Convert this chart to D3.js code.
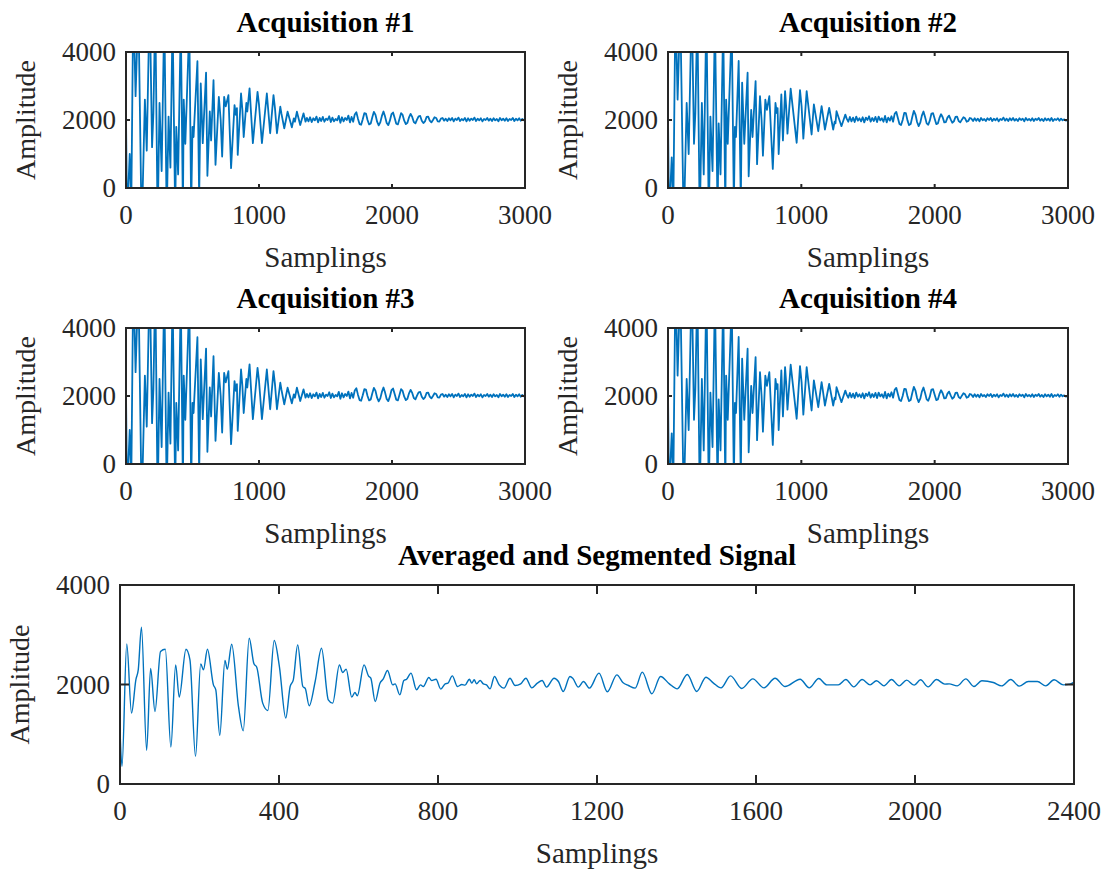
<!DOCTYPE html>
<html>
<head>
<meta charset="utf-8">
<script src="https://cdn.jsdelivr.net/npm/d3@7"></script>
<style>
  body { margin: 0; background: #fff; }
  svg { display: block; }
</style>
</head>
<body>
<div id="chart"></div>
<script>
// ---- data ----
const acqTitles = ["Acquisition #1", "Acquisition #2", "Acquisition #3", "Acquisition #4"];
const avgTitle = "Averaged and Segmented Signal";
const xLabel = "Samplings";
const yLabel = "Amplitude";

const acqXTicks = [0, 1000, 2000, 3000];
const avgXTicks = [0, 400, 800, 1200, 1600, 2000, 2400];
const yTicks = [0, 2000, 4000];

// raw acquisitions: [sample, amplitude] turning points (start of record, goes off scale)
const acqAHead = [[0,2100],[8,-900],[28,1000],[40,-400],[55,5600],[72,2700],[93,5400],[118,-1300],[142,2600],[156,1100],
  [178,5600],[196,1200],[206,2200],[220,5300],[238,-1100],[252,2500],[268,500],[288,5200],[306,-900],[320,2100],
  [334,600],[350,5000],[370,-800],[378,1800],[392,400],[412,4900],[428,-700],[434,2600],[446,1300],[476,4800],
  [490,-600],[500,1800],[508,1500],[537,3730],[550,-300],[562,3073],[577,1317],[602,3395],[612,361],[630,2250],
  [640,1400],[658,3170],[673,683],[698,2683],[712,2000],[723,927],[738,2683],[750,2400],[770,2732],[790,585],
  [816,2440],[826,2150],[834,2350],[840,975],[865,2780],[875,2300],[885,1500],[905,2500],[912,2250],[929,2930],
  [954,1317],[989,2830],[1000,2450],[1022,1317],[1059,2780],[1084,1610],[1109,2732],[1120,2350],[1135,1610],[1160,2390],
  [1168,2200],[1190,1756],[1215,2244],[1247,1785],[1262,2050],[1270,1950],[1285,2244],[1310,1854],[1335,2195],[1350,1950]];
// settled part, one value every 12 samples from sample 1360
const acqATailStart = 1360;
const acqATail = [2060,1960,2080,1940,2050,1990,2100,1930,2060,1970,2090,1950,2040,2000,2110,1940,2070,1960,2030,1990,
  2120,1920,2080,1960,2060,2000,2130,1930,2090,1950,
  2160,2230,2040,1880,1860,2020,2200,2190,2000,1870,1900,2080,2240,2150,1950,1840,1930,2120,2250,2100,
  1910,1850,1980,2170,2220,2060,1890,1870,2030,2200,2150,1980,1880,1920,2080,2180,2090,1940,1900,2010,
  2110,2120,1980,1910,1960,2090,2100,1980,1930,2000,2080,2060,1960,1950,2040,
  2060,1980,2040,1970,2050,1990,2060,1960,2040,2000,2070,1970,2030,1990,2060,1960,2050,1980,2040,2000,
  2070,1970,2040,1990,2050,1960,2030,2000,2060,1980,2040,1970,2050,1990,2030,1960,2060,1990,2040,1980,
  2050,1970,2030,2000,2060,1970,2040,1990,2050,1980,2030,1990,2010];

const acqBHead = [[0,2100],[8,-900],[28,900],[40,-500],[56,5500],[72,2600],[92,5300],[118,-1200],[140,2500],[155,1000],
  [178,5500],[195,1300],[205,2200],[220,5200],[238,-1000],[254,2500],[268,400],[288,5200],[306,-900],[318,2100],
  [334,500],[352,5000],[372,-800],[380,1900],[394,400],[414,4900],[430,-700],[436,2600],[448,1300],[478,4800],
  [494,-500],[502,1800],[510,1500],[530,3735],[546,-400],[556,3100],[572,1300],[597,3390],[605,344],[624,2300],
  [634,1500],[657,3145],[668,700],[690,2700],[702,2000],[712,950],[730,2600],[742,2300],[760,2700],[786,560],
  [806,2500],[816,2200],[822,2350],[830,1000],[850,2750],[862,1400],[878,2850],[886,2400],[896,1600],[920,2920],
  [965,1330],[990,2880],[1002,2400],[1015,1450],[1040,2850],[1077,1573],[1094,2457],[1127,1670],[1152,2408],[1160,2200],
  [1177,1720],[1209,2359],[1239,1720],[1250,1950],[1256,1900],[1264,2260],[1301,1818],[1330,2160]];
const acqBTailStart = 1340;
const acqBTail = [2040,1950,2090,1960,2070,1940,2100,1980,2050,1960,2080,1930,2070,2000,2110,1950,2060,1970,2090,1940,
  2100,1990,2050,1950,2120,1930,2070,1980,2110,1950,
  2180,2240,2060,1880,1850,2000,2210,2200,1990,1850,1880,2090,2270,2160,1940,1820,1920,2130,2250,2090,
  1900,1860,1990,2190,2200,2040,1880,1900,2060,2170,2080,1930,
  1940,2070,2130,2020,1920,1960,2090,2100,1970,1930,2010,2080,2050,1950,1970,2060,2040,1970,
  2050,1980,2040,1960,2060,1990,2030,1970,2050,2000,2060,1970,2040,1990,2050,1960,2030,2000,2070,1980,
  2040,1970,2050,1990,2060,1980,2030,1970,2050,2000,2040,1960,2060,1990,2030,1980,2050,1970,2040,2000,
  2060,1980,2030,1970,2050,1990,2040,1980,2060,1970,2030,2000,2050,1980,2040,1990,2020,1980,2010,2000];

// averaged signal: [sample, amplitude] turning points
const averaged = [[0,1090],[5,355],[17,2816],[29,1425],[40,2100],[46,2300],[54,3151],[67,676],[77,2321],[88,1458],
  [102,2663],[114,2709],[128,743],[140,2395],[149,1746],[166,2709],[176,2495],[190,555],[203,2415],[210,2295],
  [220,2709],[235,1993],[241,1893],[251,977],[264,2482],[270,2308],[281,2810],[298,1559],[310,1070],[325,2930],
  [337,2415],[344,2348],[359,1626],[372,1478],[388,2883],[401,2361],[417,1325],[428,1960],[436,2094],[447,2796],
  [460,1960],[466,1920],[476,1572],[491,2060],[507,2729],[524,1693],[535,1626],[552,2395],[560,2241],[569,2308],
  [583,1746],[591,1840],[597,1773],[614,2395],[625,2174],[631,2127],[642,1659],[654,2027],[662,2107],[673,2281],
  [686,1993],[692,2013],[704,1793],[714,2080],[721,2107],[732,2228],[746,1893],[756,1993],[763,1960],[777,2141],
  [784,2080],[795,2107],[807,1907],[818,2013],[825,2027],[836,2174],[849,1960],[860,2000],[868,1987],[879,2107],
  [885,2027],[891,2094],[897,2013],[906,2080],[914,2013],[922,1993],[931,1913],[942,2161],[954,1993],[966,1927],
  [981,2127],[994,1980],[1008,2013],[1021,2127],[1036,1933],[1050,2027],[1062,2080],[1073,1947],[1092,2127],[1103,2060],
  [1115,1860],[1132,2161],[1139,2127],[1153,1947],[1166,2060],[1181,1927],[1205,2228],[1226,1853],[1250,2194],[1265,2040],
  [1279,1980],[1296,1927],[1314,2248],[1338,1813],[1360,2161],[1382,2013],[1402,1913],[1427,2201],[1451,1860],[1474,2147],
  [1493,2027],[1512,1933],[1536,2174],[1564,1920],[1592,2114],[1620,1933],[1648,2127],[1673,1960],[1711,2107],[1734,1933],
  [1758,2120],[1778,1993],[1807,1993],[1826,2100],[1846,1953],[1867,2100],[1887,1993],[1903,2074],[1922,1973],[1941,2100],
  [1960,1973],[1979,2087],[1998,1987],[2014,2094],[2033,1953],[2054,2100],[2075,2007],[2086,2013],[2106,1973],[2128,2114],
  [2148,1960],[2168,2074],[2197,2040],[2218,1973],[2241,2100],[2262,1967],[2285,2060],[2308,2060],[2329,1973],[2350,2094],
  [2373,1993],[2390,2007],[2400,2047]];

// ---- drawing ----
const width = 1104, height = 871;
const ink = "#262626", lineColor = "#0072BD";
const font = "'Liberation Serif', 'Times New Roman', serif";

const svg = d3.select("#chart").append("svg")
    .attr("width", width)
    .attr("height", height)
    .style("font-family", font);

function withTail(head, start, tail) {
    return head.concat(tail.map((v, i) => [start + i * 12, v]));
}
const acqA = withTail(acqAHead, acqATailStart, acqATail);
const acqB = withTail(acqBHead, acqBTailStart, acqBTail);
// #3 looks the same as #1 and #4 the same as #2 in the figure
const acqData = [acqA, acqB, acqA, acqB];

function panel(id, box, opts) {
    const { left, top, right, bottom } = box;
    const x = d3.scaleLinear().domain(opts.xDomain).range([left, right]);
    const y = d3.scaleLinear().domain([0, 4000]).range([bottom, top]);
    const g = svg.append("g");

    g.append("clipPath").attr("id", "clip" + id)
        .append("rect").attr("x", left).attr("y", top)
        .attr("width", right - left).attr("height", bottom - top);

    const line = d3.line().x(d => x(d[0])).y(d => y(d[1])).curve(opts.curve);
    g.append("path")
        .datum(opts.data)
        .attr("clip-path", `url(#clip${id})`)
        .attr("fill", "none")
        .attr("stroke", lineColor)
        .attr("stroke-width", opts.lineWidth)
        .attr("stroke-linejoin", "round")
        .attr("d", line);

    // ticks inside the box, on all four sides
    const tl = opts.tickLen;
    const xt = opts.xTicks.slice(1, -1), yt = yTicks.slice(1, -1);
    g.selectAll(".xtb").data(xt).enter().append("line")
        .attr("x1", d => x(d)).attr("x2", d => x(d))
        .attr("y1", bottom).attr("y2", bottom - tl)
        .attr("stroke", ink).attr("stroke-width", 2);
    g.selectAll(".xtt").data(xt).enter().append("line")
        .attr("x1", d => x(d)).attr("x2", d => x(d))
        .attr("y1", top).attr("y2", top + tl)
        .attr("stroke", ink).attr("stroke-width", 2);
    g.selectAll(".ytl").data(yt).enter().append("line")
        .attr("x1", left).attr("x2", left + tl)
        .attr("y1", d => y(d)).attr("y2", d => y(d))
        .attr("stroke", ink).attr("stroke-width", 2);
    g.selectAll(".ytr").data(yt).enter().append("line")
        .attr("x1", right).attr("x2", right - tl)
        .attr("y1", d => y(d)).attr("y2", d => y(d))
        .attr("stroke", ink).attr("stroke-width", 2);

    g.append("rect")
        .attr("x", left).attr("y", top)
        .attr("width", right - left).attr("height", bottom - top)
        .attr("fill", "none").attr("stroke", ink).attr("stroke-width", 2);

    // tick labels
    g.selectAll(".xl").data(opts.xTicks).enter().append("text")
        .attr("x", d => x(d)).attr("y", bottom + 36)
        .attr("text-anchor", "middle")
        .attr("fill", ink).style("font-size", "27px")
        .text(d => d);
    g.selectAll(".yl").data(yTicks).enter().append("text")
        .attr("x", left - 10).attr("y", d => y(d) + 9)
        .attr("text-anchor", "end")
        .attr("fill", ink).style("font-size", "27px")
        .text(d => d);

    // axis labels and title
    g.append("text")
        .attr("x", (left + right) / 2).attr("y", bottom + 79)
        .attr("text-anchor", "middle")
        .attr("fill", ink).style("font-size", "29px")
        .text(xLabel);
    g.append("text")
        .attr("transform", `translate(${left - 91}, ${(top + bottom) / 2}) rotate(-90)`)
        .attr("text-anchor", "middle")
        .attr("fill", ink).style("font-size", "28px")
        .text(yLabel);
    g.append("text")
        .attr("x", (left + right) / 2).attr("y", top - 20)
        .attr("text-anchor", "middle")
        .attr("fill", "#000").style("font-size", "29px").style("font-weight", "bold")
        .text(opts.title);
}

const smallBoxes = [
    { left: 126, top: 52, right: 525, bottom: 188 },
    { left: 668, top: 52, right: 1068, bottom: 188 },
    { left: 126, top: 328, right: 525, bottom: 464 },
    { left: 668, top: 328, right: 1068, bottom: 464 }
];

smallBoxes.forEach((box, i) => {
    panel(i, box, {
        xDomain: [0, 3000], xTicks: acqXTicks, data: acqData[i],
        title: acqTitles[i], tickLen: 4, lineWidth: 1.8, curve: d3.curveLinear
    });
});

panel(4, { left: 120, top: 585, right: 1074, bottom: 784 }, {
    xDomain: [0, 2400], xTicks: avgXTicks, data: averaged,
    title: avgTitle, tickLen: 9, lineWidth: 1.4, curve: d3.curveMonotoneX
});
</script>
</body>
</html>
